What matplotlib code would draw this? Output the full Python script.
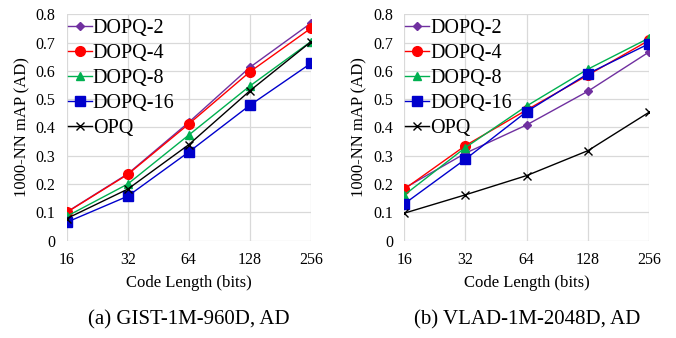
import numpy as np
import matplotlib
matplotlib.use('Agg')
import matplotlib.pyplot as plt

# Data
code_lengths = ['16', '32', '64', '128', '256']
series_names = ['DOPQ-2', 'DOPQ-4', 'DOPQ-8', 'DOPQ-16', 'OPQ']

gist_dopq2 = [0.101, 0.236, 0.418, 0.612, 0.768]
gist_dopq4 = [0.100, 0.234, 0.412, 0.596, 0.750]
gist_dopq8 = [0.086, 0.200, 0.373, 0.546, 0.703]
gist_dopq16 = [0.065, 0.157, 0.313, 0.478, 0.626]
gist_opq = [0.078, 0.182, 0.339, 0.529, 0.702]

vlad_dopq2 = [0.185, 0.309, 0.409, 0.528, 0.667]
vlad_dopq4 = [0.182, 0.336, 0.462, 0.585, 0.708]
vlad_dopq8 = [0.161, 0.329, 0.476, 0.606, 0.716]
vlad_dopq16 = [0.130, 0.288, 0.456, 0.590, 0.696]
vlad_opq = [0.097, 0.162, 0.230, 0.318, 0.454]

yticks = [0, 0.1, 0.2, 0.3, 0.4, 0.5, 0.6, 0.7, 0.8]
ytick_labels = ['0', '0.1', '0.2', '0.3', '0.4', '0.5', '0.6', '0.7', '0.8']
captions = ['(a) GIST-1M-960D, AD', '(b) VLAD-1M-2048D, AD']

styles = [
    dict(color='#7030A0', marker='D', ms=4.5),
    dict(color='#FF0000', marker='o', ms=7),
    dict(color='#00B050', marker='^', ms=5.5),
    dict(color='#0000CC', marker='s', ms=6.5),
    dict(color='black', marker='x', ms=6, mew=1.0),
]

plt.rcParams['font.family'] = ['Liberation Serif', 'DejaVu Serif']

fig = plt.figure(figsize=(6.76, 3.38), dpi=100)
ax1 = fig.add_axes([0.0987, 0.288, 0.361, 0.670])
ax2 = fig.add_axes([0.598, 0.288, 0.3624, 0.670])

panels = [
    (ax1, [gist_dopq2, gist_dopq4, gist_dopq8, gist_dopq16, gist_opq]),
    (ax2, [vlad_dopq2, vlad_dopq4, vlad_dopq8, vlad_dopq16, vlad_opq]),
]

x = np.arange(len(code_lengths))
for (ax, data), cap in zip(panels, captions):
    for vals, name, st in zip(data, series_names, styles):
        ax.plot(x, vals, lw=1.0, label=name, **st)
    ax.set_xlim(0, len(code_lengths) - 1)
    ax.set_ylim(0, 0.8)
    ax.set_xticks(x)
    ax.set_xticklabels(code_lengths, fontsize=11.5)
    ax.set_yticks(yticks)
    ax.set_yticklabels(ytick_labels, fontsize=11.5)
    ax.grid(True, color='#d9d9d9', lw=0.9)
    ax.set_axisbelow(True)
    for s in ax.spines.values():
        s.set_visible(False)
    ax.tick_params(length=0, pad=8)
    ax.set_xlabel('Code Length (bits)', fontsize=12, labelpad=5)
    ax.set_ylabel('1000-NN mAP (AD)', fontsize=12, labelpad=4)
    ax.legend(loc='upper left', bbox_to_anchor=(-0.014, 1.0), frameon=False,
              fontsize=14.5, handlelength=1.2, handletextpad=0.05,
              labelspacing=0.3, borderaxespad=0.0, borderpad=0.22)
    ax.text(0.5, -0.35, cap, transform=ax.transAxes, ha='center', va='center',
            fontsize=15)

fig.savefig('out.png', dpi=100, facecolor='w')
